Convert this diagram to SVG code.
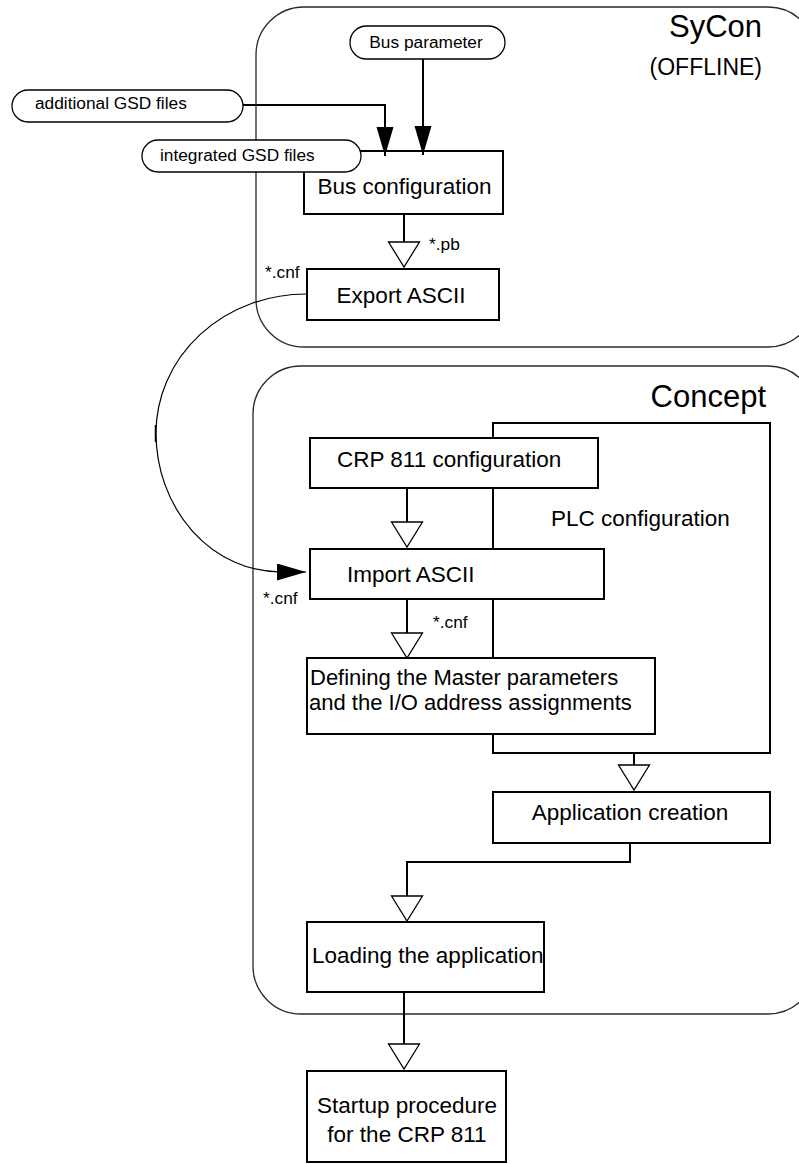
<svg xmlns="http://www.w3.org/2000/svg" width="799" height="1164" viewBox="0 0 799 1164">
<style>
  text { font-family: "Liberation Sans", Arial, sans-serif; fill: #000; }
  .container { fill: none; stroke: #2a2a2a; stroke-width: 1.3; }
  .box { fill: #fff; stroke: #000; stroke-width: 2; }
  .frame { fill: none; stroke: #000; stroke-width: 2; }
  .pill { fill: #fff; stroke: #000; stroke-width: 1.3; }
  .lbl { font-size: 17.3px; }
  .bt { font-size: 22.5px; }
  .title { font-size: 31px; }
  .conn { fill: none; stroke: #000; stroke-width: 2; }
  .open { marker-end: url(#openTri); }
  .solid { marker-end: url(#solidTri); }
  .curve { fill: none; stroke: #000; stroke-width: 1.2; }
</style>
<defs>
  <marker id="openTri" markerUnits="userSpaceOnUse" markerWidth="30" markerHeight="36" refX="26" refY="16.5" orient="auto">
    <path d="M1,1 L26,16.5 L1,32 Z" fill="#fff" stroke="#000" stroke-width="1.3"/>
  </marker>
  <marker id="solidTri" markerUnits="userSpaceOnUse" markerWidth="31" markerHeight="19" refX="29" refY="8.5" orient="auto">
    <path d="M0,0 L29,8.5 L0,17 Z" fill="#000"/>
  </marker>
</defs>

<g id="sycon">
  <rect class="container" x="256" y="7" width="560" height="340" rx="48" ry="48"/>
  <text class="title" x="762" y="37" text-anchor="end">SyCon</text>
  <text x="762" y="75" text-anchor="end" font-size="23">(OFFLINE)</text>
</g>

<g id="concept">
  <rect class="container" x="253" y="366" width="563" height="648" rx="48" ry="48"/>
  <text class="title" x="766" y="407" text-anchor="end">Concept</text>
</g>

<g id="plc-configuration">
  <rect class="frame" x="493" y="423" width="277" height="330"/>
  <text class="bt" x="551" y="526">PLC configuration</text>
</g>

<g id="bus-configuration">
  <rect class="box" x="304" y="151" width="199" height="63"/>
  <text class="bt" x="404.5" y="194" text-anchor="middle">Bus configuration</text>
</g>

<g id="export-ascii">
  <rect class="box" x="307" y="269" width="192" height="51"/>
  <text class="bt" x="401" y="303" text-anchor="middle">Export ASCII</text>
</g>

<g id="crp-configuration">
  <rect class="box" x="310" y="438" width="288" height="50"/>
  <text class="bt" x="337" y="467">CRP 811 configuration</text>
</g>

<g id="import-ascii">
  <rect class="box" x="310" y="549" width="294" height="50"/>
  <text class="bt" x="347" y="582">Import ASCII</text>
</g>

<g id="defining-master">
  <rect class="box" x="307" y="658" width="348" height="76"/>
  <text x="310" y="685" font-size="22">Defining the Master parameters</text>
  <text x="309" y="710" font-size="22">and the I/O address assignments</text>
</g>

<g id="application-creation">
  <rect class="box" x="493" y="792" width="277" height="51"/>
  <text class="bt" x="630" y="820" text-anchor="middle">Application creation</text>
</g>

<g id="loading-application">
  <rect class="box" x="307" y="922" width="237" height="70"/>
  <text class="bt" x="312" y="963">Loading the application</text>
</g>

<g id="startup-procedure">
  <rect class="box" x="307" y="1071" width="199" height="91"/>
  <text class="bt" x="407" y="1113" text-anchor="middle">Startup procedure</text>
  <text class="bt" x="407" y="1142" text-anchor="middle">for the CRP 811</text>
</g>

<g id="connectors">
  <path class="conn solid" d="M243,105 H385 V156"/>
  <path class="conn solid" d="M423,59 V155"/>
  <path class="conn open" d="M404,214 V267"/>
  <path class="curve solid" d="M307,294 A150,139 0 0 0 156,433 A125,139 0 0 0 281,572 L306,572"/>
  <line x1="155.5" y1="425" x2="155.5" y2="442" stroke="#000" stroke-width="1.5"/>
  <path class="conn open" d="M407,488 V547"/>
  <path class="conn open" d="M407,599 V658"/>
  <path class="conn open" d="M634,753 V790"/>
  <path class="conn open" d="M630,843 V862 H407 V921"/>
  <path class="conn open" d="M404,992 V1069"/>
</g>

<g id="bus-parameter">
  <rect class="pill" x="350" y="26" width="155" height="33" rx="16.5" ry="16.5"/>
  <text class="lbl" x="426" y="48" text-anchor="middle">Bus parameter</text>
</g>

<g id="additional-gsd">
  <rect class="pill" x="12" y="90" width="231" height="32" rx="16" ry="16"/>
  <text class="lbl" x="35" y="109">additional GSD files</text>
</g>

<g id="integrated-gsd">
  <rect class="pill" x="142" y="140" width="219" height="32" rx="16" ry="16"/>
  <text class="lbl" x="160" y="161">integrated GSD files</text>
</g>

<g id="labels">
  <text class="lbl" x="429" y="250">*.pb</text>
  <text class="lbl" x="265" y="278">*.cnf</text>
  <text class="lbl" x="263" y="604">*.cnf</text>
  <text class="lbl" x="433" y="628">*.cnf</text>
</g>
</svg>
